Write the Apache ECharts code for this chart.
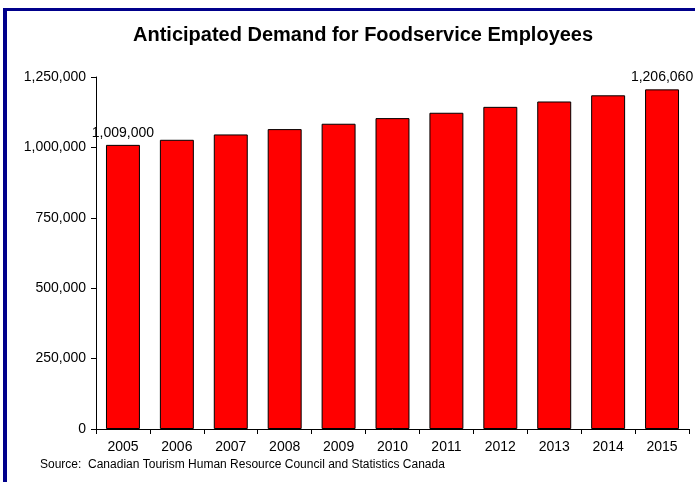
<!DOCTYPE html>
<html>
<head>
<meta charset="utf-8">
<script src="https://cdn.jsdelivr.net/npm/echarts@6/dist/echarts.min.js"></script>
<style>
  html, body { margin: 0; padding: 0; background: #fff; }
  #chart { width: 695px; height: 482px; }
</style>
</head>
<body>
<div id="chart"></div>
<script>
// data
const years = ['2005', '2006', '2007', '2008', '2009', '2010', '2011', '2012', '2013', '2014', '2015'];
const employees = [1009000, 1027000, 1046000, 1065000, 1084000, 1104000, 1123000, 1144000, 1163000, 1185000, 1206060];
const labelledYears = ['2005', '2015'];
const yTicks = [0, 250000, 500000, 750000, 1000000, 1250000];

const fmt = v => String(v).replace(/\B(?=(\d{3})+(?!\d))/g, ',');
const font = 'Arial, "Liberation Sans", sans-serif';

let myChart = echarts.init(document.getElementById('chart'));

let option = {
  backgroundColor: '#fff',
  animation: false,
  title: {
    text: 'Anticipated Demand for Foodservice Employees',
    left: 133,
    top: 25,
    padding: 0,
    textStyle: { fontFamily: font, fontSize: 20, fontWeight: 'bold', color: '#000' }
  },
  grid: { left: 96, right: 6, top: 77, bottom: 53 },
  xAxis: {
    type: 'category',
    data: years,
    axisLine: { lineStyle: { color: '#000', width: 1 } },
    axisTick: { show: true, length: 5, lineStyle: { color: '#000' } },
    axisLabel: { fontFamily: font, fontSize: 14, color: '#000', margin: 11 }
  },
  yAxis: {
    type: 'value',
    min: yTicks[0],
    max: yTicks[yTicks.length - 1],
    interval: yTicks[1] - yTicks[0],
    splitLine: { show: false },
    axisLine: { show: true, lineStyle: { color: '#000', width: 1 } },
    axisTick: { show: true, length: 5, lineStyle: { color: '#000' } },
    axisLabel: { fontFamily: font, fontSize: 14, color: '#000', margin: 10, formatter: fmt }
  },
  series: [
    {
      type: 'bar',
      data: employees.map((v, i) => ({
        value: v,
        label: { show: labelledYears.includes(years[i]) }
      })),
      barWidth: '63%',
      itemStyle: { color: '#ff0000', borderColor: '#000', borderWidth: 1 },
      label: {
        position: 'top',
        distance: 5,
        fontFamily: font,
        fontSize: 14,
        color: '#000',
        formatter: p => fmt(p.value)
      }
    }
  ],
  graphic: [
    { type: 'rect', shape: { x: 3, y: 8, width: 692, height: 3 }, style: { fill: '#00008b' } },
    { type: 'rect', shape: { x: 3, y: 8, width: 4, height: 474 }, style: { fill: '#00008b' } },
    {
      type: 'text', left: 40, top: 459,
      style: {
        text: 'Source:  Canadian Tourism Human Resource Council and Statistics Canada',
        font: '12px ' + font, fill: '#000'
      }
    }
  ]
};

myChart.setOption(option);
</script>
</body>
</html>
